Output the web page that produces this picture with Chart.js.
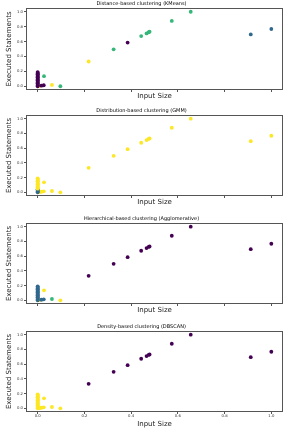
<!DOCTYPE html>
<html><head><meta charset="utf-8">
<script src="https://cdn.jsdelivr.net/npm/chart.js@4.4.0/dist/chart.umd.min.js"></script>
<style>
html,body{margin:0;padding:0;background:#fff;width:290px;height:432px;overflow:hidden}
.c{position:absolute;left:0;width:290px}
</style></head><body>
<div class="c" style="top:0;height:100px"><canvas id="c0"></canvas></div>
<div class="c" style="top:107px;height:99px"><canvas id="c1"></canvas></div>
<div class="c" style="top:215px;height:99px"><canvas id="c2"></canvas></div>
<div class="c" style="top:323px;height:109px"><canvas id="c3"></canvas></div>
<script>
const tickValues = [0, 0.2, 0.4, 0.6, 0.8, 1.0];
// main points, scattered small points, foot points, column points at x≈0
const inputSize = [0.218, 0.325, 0.385, 0.443, 0.466, 0.475, 0.479, 0.574, 0.655, 0.912, 1.0,
  0.027, 0.061, 0.097,
  0.008, 0.016, 0.026,
  0, 0, 0, 0, 0, 0, 0, 0, 0, 0, 0, 0, 0, 0, 0, 0, 0, 0, 0, 0];
const executed = [0.332, 0.495, 0.586, 0.673, 0.709, 0.725, 0.732, 0.877, 1.0, 0.695, 0.768,
  0.136, 0.018, 0.0,
  0.004, 0.008, 0.014,
  0.0, 0.01, 0.02, 0.03, 0.04, 0.05, 0.06, 0.07, 0.08, 0.09, 0.10, 0.11, 0.12, 0.13, 0.14, 0.15, 0.16, 0.17, 0.18, 0.19];
const kmeansLabels = [3, 2, 0, 2, 2, 2, 2, 2, 2, 1, 1,
  2, 3, 2,
  3, 0, 0,
  0, 0, 0, 0, 0, 0, 0, 0, 0, 0, 0, 0, 0, 0, 0, 0, 0, 0, 0, 0];
const gmmLabels = [3, 3, 3, 3, 3, 3, 3, 3, 3, 3, 3,
  3, 3, 3,
  3, 3, 3,
  1, 1, 1, 1, 1, 3, 3, 3, 3, 3, 3, 3, 3, 3, 3, 3, 3, 3, 3, 3];
const aggloLabels = [0, 0, 0, 0, 0, 0, 0, 0, 0, 0, 0,
  3, 2, 3,
  3, 1, 1,
  1, 1, 1, 1, 1, 1, 1, 1, 1, 1, 1, 1, 1, 1, 1, 1, 1, 1, 1, 1];
const dbscanLabels = [0, 0, 0, 0, 0, 0, 0, 0, 0, 0, 0,
  3, 3, 3,
  3, 3, 3,
  3, 3, 3, 3, 3, 3, 3, 3, 3, 3, 3, 3, 3, 3, 3, 3, 3, 3, 3, 3];
const panelTitles = ['Distance-based clustering (KMeans)', 'Distribution-based clustering (GMM)',
  'Hierarchical-based clustering (Agglomerative)', 'Density-based clustering (DBSCAN)'];
const viridis4 = ['#440154', '#31688e', '#35b779', '#fde725'];

const FONT = "'DejaVu Sans', sans-serif";
const frame = {
  id: 'frame',
  afterDraw(ch) {
    const a = ch.chartArea, ctx = ch.ctx;
    ctx.save();
    ctx.strokeStyle = '#555';
    ctx.lineWidth = 1;
    ctx.strokeRect(Math.round(a.left) + 0.5, Math.round(a.top) + 0.5,
      Math.round(a.right - a.left) - 1, Math.round(a.bottom - a.top) - 1);
    ctx.restore();
  }
};

const panels = [
  {id: 'c0', labels: kmeansLabels, showX: false},
  {id: 'c1', labels: gmmLabels, showX: false},
  {id: 'c2', labels: aggloLabels, showX: false},
  {id: 'c3', labels: dbscanLabels, showX: true}
];

panels.forEach((p, i) => {
  new Chart(document.getElementById(p.id), {
    type: 'scatter',
    data: {
      datasets: [{
        data: inputSize.map((x, k) => ({x: x, y: executed[k]})),
        pointBackgroundColor: p.labels.map(l => viridis4[l]),
        pointBorderWidth: 0,
        pointRadius: 1.9,
        showLine: false
      }]
    },
    options: {
      responsive: true,
      maintainAspectRatio: false,
      animation: false,
      layout: {padding: {left: 0, right: 7, top: 0, bottom: p.showX ? 4 : 0}},
      plugins: {
        legend: {display: false},
        tooltip: {enabled: false},
        title: {display: true, text: panelTitles[i], color: '#000',
          font: {family: FONT, size: 5, weight: 'normal'}, padding: {top: 1, bottom: 1}}
      },
      scales: {
        x: {
          type: 'linear', min: -0.05, max: 1.05,
          afterBuildTicks: s => { s.ticks = tickValues.map(v => ({value: v})); },
          afterFit: s => { s.height = p.showX ? 16 : 10; },
          grid: {drawOnChartArea: false, drawTicks: true, tickLength: 2, color: '#555'},
          border: {display: false},
          ticks: {display: p.showX, padding: 0, color: '#333', autoSkip: false, maxRotation: 0,
            font: {family: FONT, size: 3.8}, callback: v => Number(v).toFixed(1)},
          title: {display: true, text: 'Input Size', color: '#222', padding: 0,
            font: {family: FONT, size: 7}}
        },
        y: {
          type: 'linear', min: -0.05, max: 1.05,
          afterBuildTicks: s => { s.ticks = tickValues.map(v => ({value: v})); },
          afterFit: s => { s.width = 26; },
          grid: {drawOnChartArea: false, drawTicks: true, tickLength: 2, color: '#555'},
          border: {display: false},
          ticks: {padding: 1, color: '#333', autoSkip: false,
            font: {family: FONT, size: 3.8}, callback: v => Number(v).toFixed(1)},
          title: {display: true, text: 'Executed Statements', color: '#222', padding: {top: 5, bottom: 0},
            font: {family: FONT, size: 7}}
        }
      }
    },
    plugins: [frame]
  });
});
</script>
</body></html>
